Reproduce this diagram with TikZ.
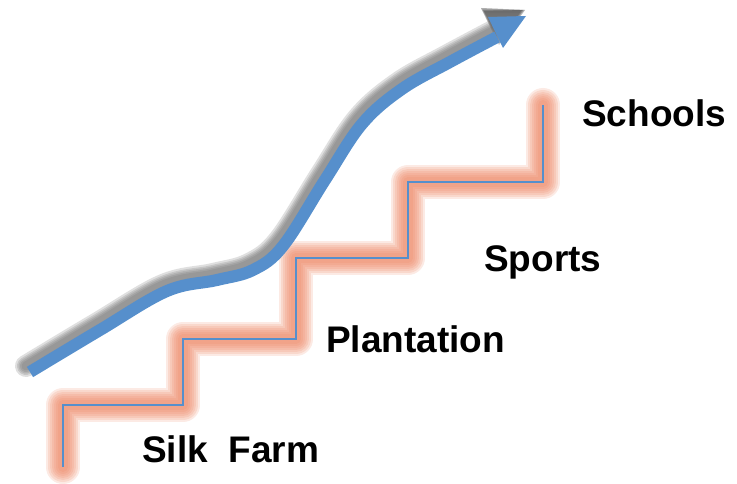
\documentclass[tikz,border=0pt]{standalone}
\usepackage{fontspec}
\setmainfont{Liberation Sans}
\definecolor{arrowblue}{RGB}{86,143,204}
\definecolor{glow}{RGB}{236,128,92}
\definecolor{shade}{RGB}{110,110,110}
\tikzset{
  label/.style={anchor=base west,inner sep=0pt,font=\fontsize{37}{41}\selectfont\bfseries},
  glowline/.style={draw=glow,line width=#1,line join=round,line cap=round,opacity=0.17},
  shadeline/.style={draw=shade,line width=#1,line cap=round,opacity=0.22},
  stairline/.style={draw=arrowblue,line width=1.6pt},
  mainarrow/.style={draw=arrowblue,line width=12pt}
}
\begin{document}
\begin{tikzpicture}[x=1pt,y=-1pt]
\useasboundingbox (0,0) rectangle (737,484);
% stair glow
\foreach \w in {10,14,18,22,26,30,34}{
  \draw[glowline=\w pt] (63,467) -- (63,405) -- (183,405) -- (183,339) -- (296,339) -- (296,258) -- (408,258) -- (408,182) -- (543,182) -- (543,105);
}
\draw[stairline] (63,467) -- (63,405) -- (183,405) -- (183,339) -- (296,339) -- (296,258) -- (408,258) -- (408,182) -- (543,182) -- (543,105);
% arrow shadow
\begin{scope}[shift={(-4,-6)}]
\foreach \w in {9,12,15,18,22}{
  \draw[shadeline=\w pt] plot[smooth,tension=0.6] coordinates {(30,372) (100,330) (167,291) (217,280) (253,270) (283,246) (325,180) (362,124) (402,89) (450,62) (497,37)};
}
\foreach \o in {0,1.5,3}{
  \fill[shade,opacity=0.25] (526+\o,16) -- (488-\o,17-\o) -- (503,48+\o) -- cycle;
}
\end{scope}
% arrow
\draw[mainarrow] plot[smooth,tension=0.6] coordinates {(30,372) (100,330) (167,291) (217,280) (253,270) (283,246) (325,180) (362,124) (402,89) (450,62) (497,37)};
\fill[arrowblue] (526,16) -- (488,17) -- (503,48) -- cycle;
% labels
\node[label] (schools) at (582,127) {Schools};
\node[label] (sports) at (484,272) {Sports};
\node[label] (plantation) at (326,352) {Plantation};
\node[label] (silk) at (142,462) {Silk\ \ Farm};
\end{tikzpicture}
\end{document}
